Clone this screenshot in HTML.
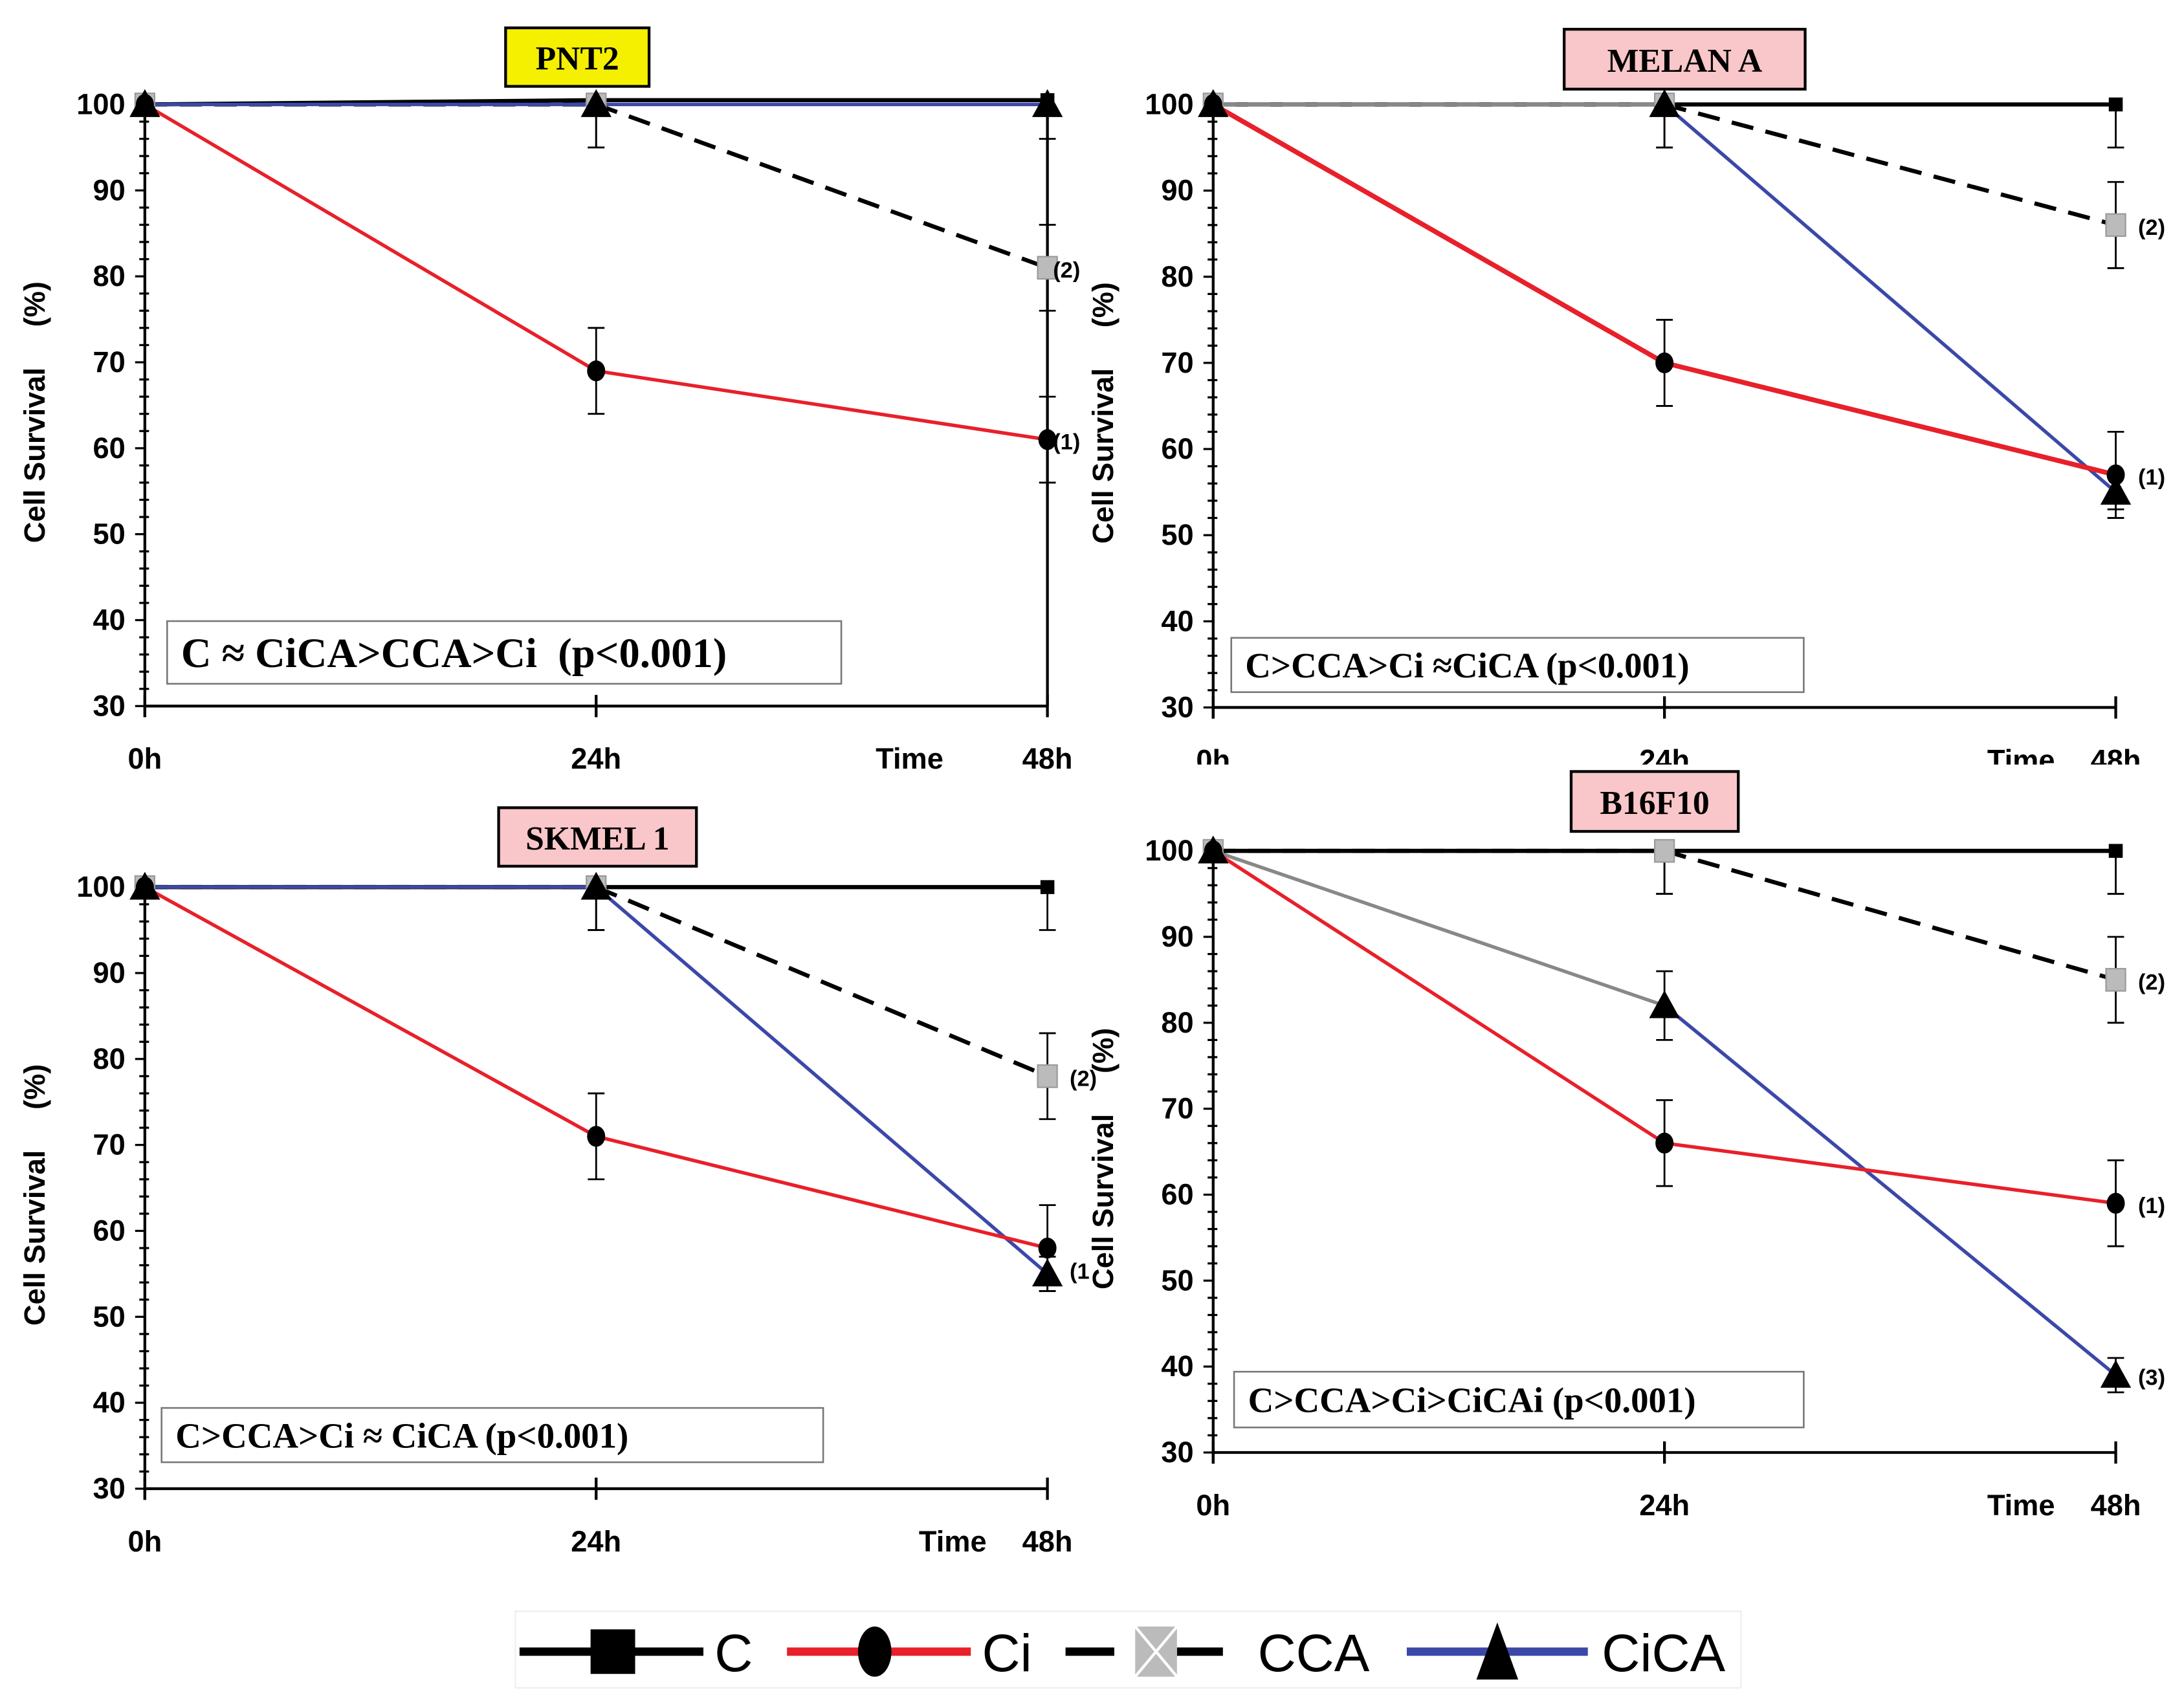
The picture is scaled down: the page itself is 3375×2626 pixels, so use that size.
<!DOCTYPE html>
<html><head><meta charset="utf-8"><style>
html,body{margin:0;padding:0;background:#fff;}
svg{display:block;}
text{white-space:pre;}
.tk{font-family:"Liberation Sans",sans-serif;font-weight:bold;font-size:21px;fill:#000;}
.ttl{font-family:"Liberation Serif",serif;font-weight:bold;font-size:24px;fill:#000;}
.st{font-family:"Liberation Serif",serif;font-weight:bold;fill:#000;}
.lg{font-family:"Liberation Sans",sans-serif;font-size:38px;fill:#000;}
</style></head><body>
<svg id="chart" width="3375" height="2626" viewBox="0 0 1568 1220" xmlns="http://www.w3.org/2000/svg">
<g id="panels"></g>
<g>
<rect x="370" y="1157" width="880" height="55" fill="none" stroke="#eee" stroke-width="1"/>
<g>
<line x1="373" y1="1186" x2="505" y2="1186" stroke="#000" stroke-width="6"/>
<rect x="424" y="1170" width="32" height="32" fill="#000"/>
<text class="lg" x="513" y="1200">C</text></g>
<g>
<line x1="565" y1="1186" x2="697" y2="1186" stroke="#e8202a" stroke-width="6"/>
<ellipse cx="628" cy="1186" rx="12" ry="18" fill="#000"/>
<text class="lg" x="705" y="1200">Ci</text></g>
<g>
<line x1="765" y1="1186" x2="800" y2="1186" stroke="#000" stroke-width="6"/>
<line x1="845" y1="1186" x2="878" y2="1186" stroke="#000" stroke-width="6"/>
<rect x="815" y="1168" width="30" height="36" fill="#bbb"/>
<path d="M815 1168 L845 1204 M845 1168 L815 1204" stroke="#fff" stroke-width="2"/>
<text class="lg" x="903" y="1200">CCA</text></g>
<g>
<line x1="1010" y1="1186" x2="1140" y2="1186" stroke="#3c48a8" stroke-width="6"/>
<path d="M1075 1165 L1090 1206 L1060 1206 Z" fill="#000"/>
<text class="lg" x="1150" y="1200">CiCA</text></g>
</g>
</svg>
<script>
const times = [0, 24, 48];
const panelNames = ["PNT2", "MELAN A", "SKMEL 1", "B16F10"];
const statTexts = ["C \u2248 CiCA>CCA>Ci  (p<0.001)", "C>CCA>Ci \u2248CiCA (p<0.001)", "C>CCA>Ci \u2248 CiCA (p<0.001)", "C>CCA>Ci>CiCAi (p<0.001)"];
const cValues = [[100,100.5,100.5],[100,100,100],[100,100,100],[100,100,100]];
const ciValues = [[100,69,61],[100,70,57],[100,71,58],[100,66,59]];
const ccaValues = [[100,100,81],[100,100,86],[100,100,78],[100,100,85]];
const cicaValues = [[100,100,100],[100,100,55],[100,100,55],[100,82,39]];
const ciErr = [[0,5,5],[0,5,5],[0,5,5],[0,5,5]];
const ccaErr = [[0,5,5],[0,5,5],[0,5,5],[0,5,5]];
const cErr = [[0,0,0],[0,0,5],[0,0,5],[0,5,5]];
const cicaErr = [[0,5,4],[0,5,2],[0,5,2],[0,4,2]];
const yTicks = [30,40,50,60,70,80,90,100];
const annotations = [["(2)","(1)",""],["(2)","(1)",""],["(2)","(1",""],["(2)","(1)","(3)"]];

const layout = [
 {x0:104,x1:752,y100:75,y30:507,title:[363,20,103,42,"#f5f000"],stat:[120,446,484,45,30],right:true,anx:4,tmx:99},
 {x0:871,x1:1519,y100:75,y30:508,title:[1123,21,173,43,"#f9c6c9"],stat:[884,458,411,39,25.5],clip:true,anx:16,tmx:68},
 {x0:104,x1:752,y100:637,y30:1069,title:[358,580,142,42,"#f9c6c9"],stat:[116,1011,475,39,25.5],anx:16,tmx:68},
 {x0:871,x1:1519,y100:611,y30:1043,title:[1128,554,120,43,"#f9c6c9"],stat:[886,985,409,40,25.5],anx:16,tmx:68}
];
const NS="http://www.w3.org/2000/svg";
const root=document.getElementById("panels");
function mk(tag,attrs,parent){const e=document.createElementNS(NS,tag);for(const k in attrs)e.setAttribute(k,attrs[k]);parent.appendChild(e);return e;}

layout.forEach((L,p)=>{
 const g=mk("g",{},root);
 
 
 const xs=t=>L.x0+(L.x1-L.x0)*t/48;
 const ys=v=>L.y30-(L.y30-L.y100)*(v-30)/70;
 const ax=mk("g",{stroke:"#000","stroke-width":2},g);
 
 
 mk("line",{x1:L.x0,y1:ys(101),x2:L.x0,y2:L.y30+8},ax);
 mk("line",{x1:L.x0,y1:L.y30,x2:L.x1,y2:L.y30},ax);
 if(L.right) mk("line",{x1:L.x1,y1:ys(101),x2:L.x1,y2:L.y30},ax);
 times.forEach(t=>{mk("line",{x1:xs(t),y1:L.y30-8,x2:xs(t),y2:L.y30+8},ax);});
 for(let v=30;v<=100;v+=2){const maj=v%10==0;mk("line",{x1:L.x0-(maj?7:4),y1:ys(v),x2:L.x0+(maj?0:3),y2:ys(v),"stroke-width":1.5},ax);}
 yTicks.forEach(v=>{const t=mk("text",{class:"tk",x:L.x0-14,y:ys(v)+7,"text-anchor":"end"},g);t.textContent=v;
  
  });
 const xl=["0h","24h","48h"];
 times.forEach((t,i)=>{const e=mk("text",{class:"tk",x:xs(t),y:L.y30+45,"text-anchor":"middle"},g);e.textContent=xl[i];
  
  });
 const tm=mk("text",{class:"tk",x:xs(48)-L.tmx,y:L.y30+45,"text-anchor":"middle"},g);tm.textContent="Time";
 
 
 const yt=mk("text",{class:"tk",transform:`translate(${L.x0-72},${(L.y100+L.y30)/2+5}) rotate(-90)`,"text-anchor":"middle"},g);
 yt.textContent="Cell Survival     (%)";
 
 
 const T=L.title;
 const tr=mk("rect",{x:T[0],y:T[1],width:T[2],height:T[3],fill:T[4],stroke:"#000","stroke-width":2},g);
 
 
 const tt=mk("text",{class:"ttl",x:T[0]+T[2]/2,y:T[1]+T[3]/2+9,"text-anchor":"middle"},g);tt.textContent=panelNames[p];
 
 
 const S=L.stat;
 const sr=mk("rect",{x:S[0],y:S[1],width:S[2],height:S[3],fill:"#fff",stroke:"#777","stroke-width":1.2},g);
 
 
 const stx=mk("text",{class:"st",x:S[0]+10,y:S[1]+S[3]/2+S[4]*0.35,"font-size":S[4]},g);stx.textContent=statTexts[p];
 
 
 function err(vals,errs,name){const eg=mk("g",{stroke:"#000","stroke-width":1.3},g);
  
  
  times.forEach((t,i)=>{const e=errs[p][i];if(!e)return;const x=xs(t);
   mk("line",{x1:x,y1:ys(vals[p][i]-e),x2:x,y2:ys(Math.min(vals[p][i]+e,100.5))},eg);
   mk("line",{x1:x-6,y1:ys(vals[p][i]-e),x2:x+6,y2:ys(vals[p][i]-e)},eg);
   if(vals[p][i]+e<=100)mk("line",{x1:x-6,y1:ys(vals[p][i]+e),x2:x+6,y2:ys(vals[p][i]+e)},eg);});}
 err(cValues,cErr,"c");err(ciValues,ciErr,"ci");err(ccaValues,ccaErr,"cca");err(cicaValues,cicaErr,"cica");
 function line(vals,stroke,w,dash,name,firstStroke){
  for(let i=0;i<2;i++){const l=mk("line",{x1:xs(times[i]),y1:ys(vals[p][i]),x2:xs(times[i+1]),y2:ys(vals[p][i+1]),stroke:(i==0&&firstStroke)?firstStroke:stroke,"stroke-width":w},g);
   if(dash)l.setAttribute("stroke-dasharray",dash);
   
   }}
 line(cValues,"#000",3,null,"c");
 line(ccaValues,"#000",3,"16 9","cca",p==1?"#888":null);
 line(cicaValues,"#3c48a8",2.5,null,"cica",(p==3)?"#888":(p==1?"#888":null));
 line(ciValues,"#e8202a",p==1?3.5:2.5,null,"ci");
 times.forEach((t,i)=>{const x=xs(t);
  let y=ys(cValues[p][i]);
  const m1=mk("rect",{x:x-5,y:y-5,width:10,height:10,fill:"#000"},g);
  
  
  y=ys(ccaValues[p][i]);
  const m2=mk("rect",{x:x-7,y:y-8,width:14,height:16,fill:"#bbb",stroke:"#999","stroke-width":1},g);
  
  
  y=ys(ciValues[p][i]);
  const m3=mk("ellipse",{cx:x,cy:y,rx:6.5,ry:7.5,fill:"#000"},g);
  
  
  y=ys(cicaValues[p][i]);
  const m4=mk("path",{d:`M${x} ${y-11} L${x+11} ${y+9} L${x-11} ${y+9} Z`,fill:"#000"},g);
  
  
 });
 const an=[ccaValues,ciValues,cicaValues];
 an.forEach((arr,k)=>{const s=annotations[p][k];if(!s)return;
  const a=mk("text",{x:xs(48)+L.anx,y:ys(arr[p][2])+(p==2&&k==1?22:7),"font-family":"Liberation Sans, sans-serif","font-weight":"bold","font-size":16},g);a.textContent=s;
  
  });
 if(L.clip){const c=mk("rect",{x:840,y:549,width:728,height:20,fill:"#fff"},g);
  
  }
});
</script>
</body></html>
